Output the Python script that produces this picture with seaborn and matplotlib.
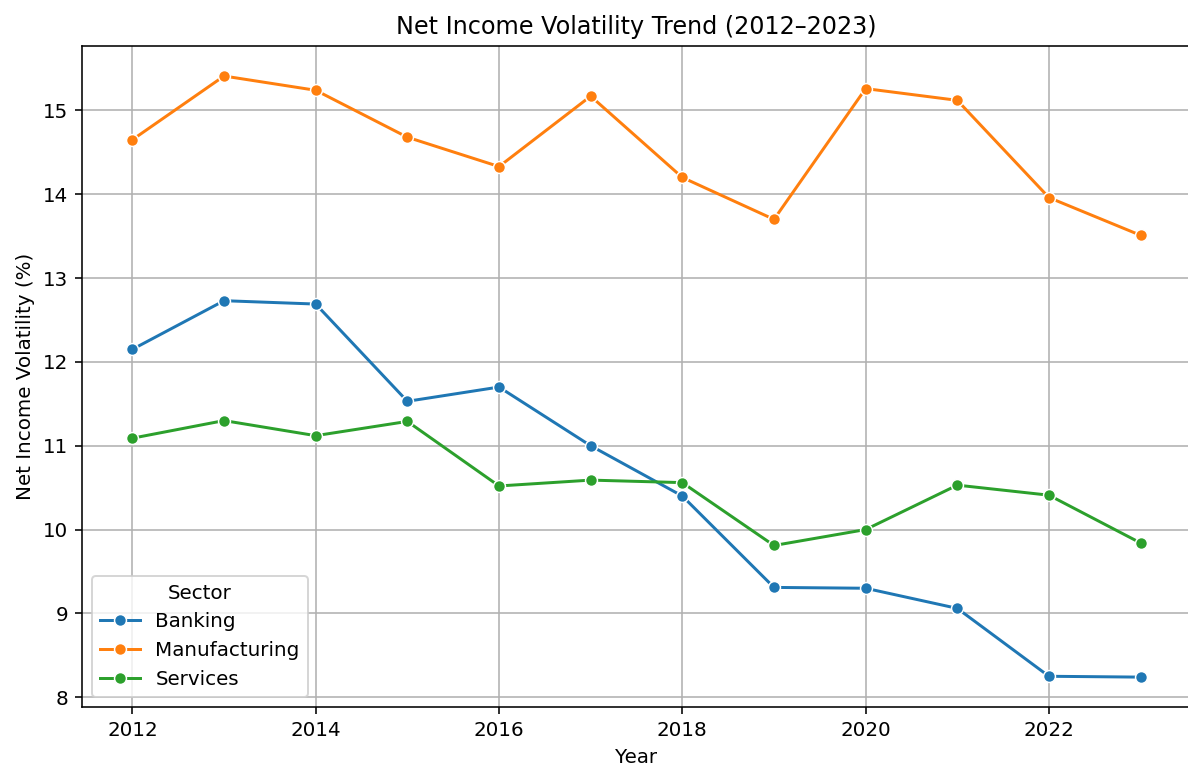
import numpy as np
import pandas as pd
import matplotlib
matplotlib.use("Agg")
import matplotlib.pyplot as plt
import seaborn as sns

years = list(range(2012, 2024))
banking = [12.15, 12.73, 12.69, 11.53, 11.70, 11.00, 10.40, 9.31, 9.30, 9.06, 8.25, 8.24]
manufacturing = [14.65, 15.41, 15.24, 14.68, 14.33, 15.17, 14.20, 13.70, 15.26, 15.12, 13.96, 13.51]
services = [11.09, 11.30, 11.12, 11.29, 10.52, 10.59, 10.56, 9.81, 10.00, 10.53, 10.41, 9.84]

df = pd.concat([
    pd.DataFrame({"Year": years, "Volatility": banking, "Sector": "Banking"}),
    pd.DataFrame({"Year": years, "Volatility": manufacturing, "Sector": "Manufacturing"}),
    pd.DataFrame({"Year": years, "Volatility": services, "Sector": "Services"}),
])

fig, ax = plt.subplots(figsize=(8.308, 5.364), dpi=143)
sns.lineplot(data=df, x="Year", y="Volatility", hue="Sector", marker="o", ax=ax)
ax.set_title("Net Income Volatility Trend (2012–2023)")
ax.set_xlabel("Year")
ax.set_ylabel("Net Income Volatility (%)")
ax.grid(True)
ax.legend(title="Sector", loc="lower left")
plt.subplots_adjust(left=0.069, right=1.0025, top=0.94, bottom=0.078)
plt.savefig("out.png", dpi=143)
